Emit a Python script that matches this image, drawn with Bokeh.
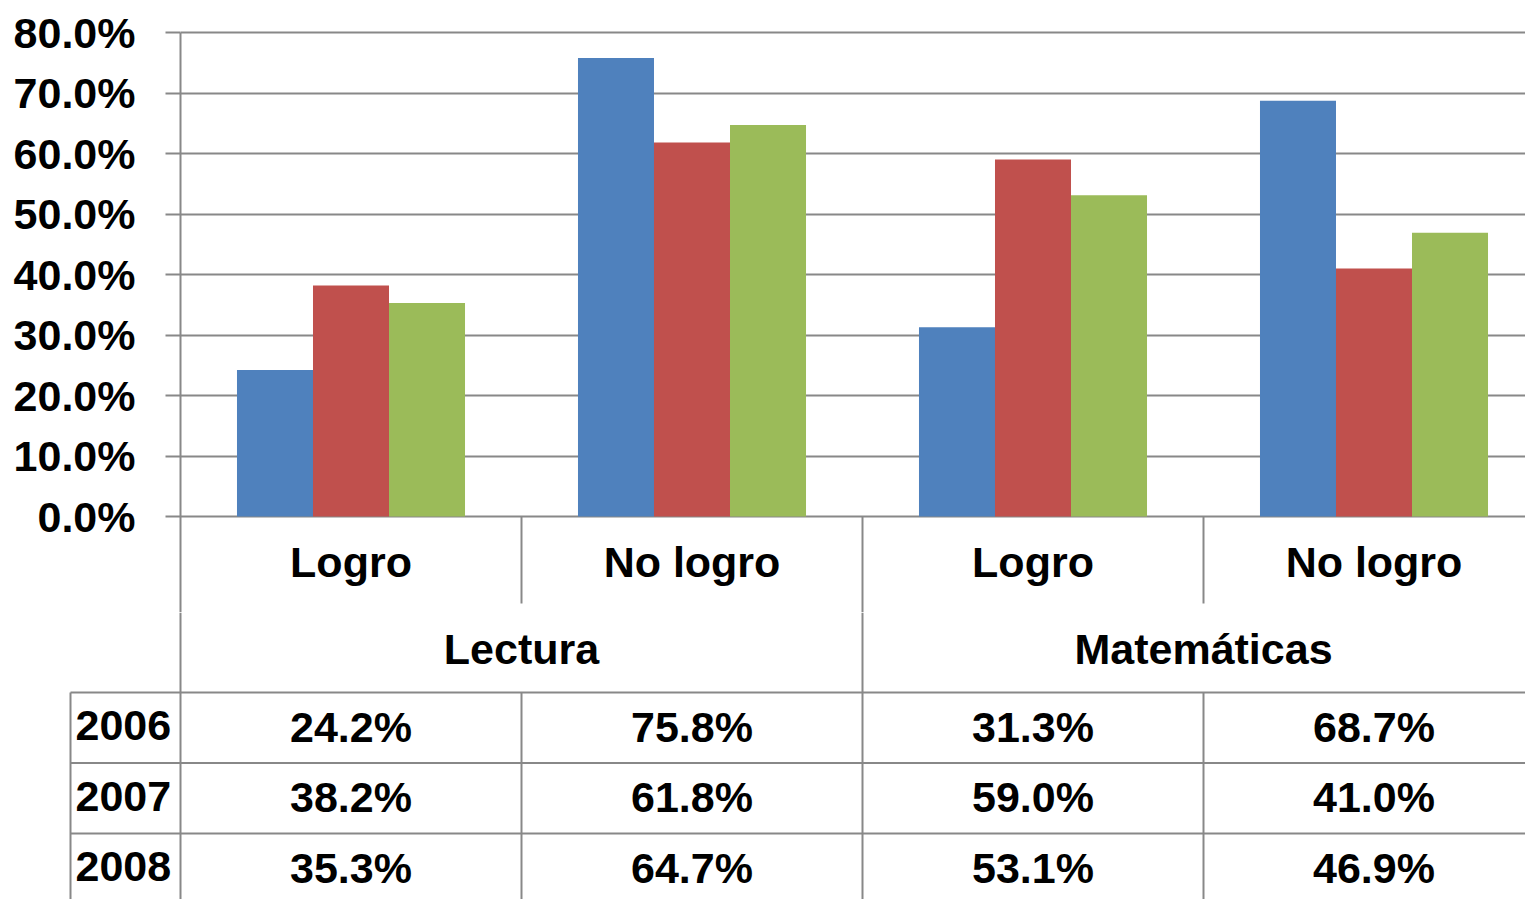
from bokeh.plotting import figure
from bokeh.models import Range1d, FixedTicker, PrintfTickFormatter, ColumnDataSource
from bokeh.embed import file_html
from bokeh.resources import INLINE
from bokeh.core.properties import value

# ---------------- data ----------------
subjects = ["Lectura", "Matemáticas"]
outcomes = ["Logro", "No logro", "Logro", "No logro"]
years = ["2006", "2007", "2008"]
v2006 = [24.2, 75.8, 31.3, 68.7]
v2007 = [38.2, 61.8, 59.0, 41.0]
v2008 = [35.3, 64.7, 53.1, 46.9]
series = [v2006, v2007, v2008]
colors = ["#4F81BD", "#C0504D", "#9BBB59"]
y_ticks = [0, 10, 20, 30, 40, 50, 60, 70, 80]

# ---------------- style / layout ----------------
FONT = "Liberation Sans"
FS = "43px"
GRID = "#888888"
W = 1525
CAT_PX = 341.0               # pixels per category
PX_PER_UNIT = 6.05           # pixels per percent
ZERO_PX = 516                # page y of 0 %
LEFT = 180
HA = 612
HB = 899 - HA
TOP_PAD = 2 / PX_PER_UNIT
BOT_PAD = (HA - ZERO_PX) / PX_PER_UNIT
X_END = (W - LEFT) / CAT_PX  # visible right edge in category units
X_START_B = -LEFT / CAT_PX   # left edge of table figure
TABLE_LEFT = -110 / CAT_PX
YEAR_X = -105 / CAT_PX
BAR_W = 0.2229

def pct_y(page_y):
    """page pixel row -> chart data units (percent)"""
    return -(page_y - ZERO_PX) / PX_PER_UNIT

# ---------------- chart figure (with category row) ----------------
pA = figure(width=W, height=HA,
            x_range=Range1d(0, X_END), y_range=Range1d(-BOT_PAD, 80 + TOP_PAD),
            output_backend="svg", toolbar_location=None, x_axis_location=None,
            min_border_left=LEFT, min_border_right=0, min_border_top=30, min_border_bottom=0)
pA.outline_line_color = None
pA.background_fill_color = "white"
pA.border_fill_color = "white"
pA.xgrid.visible = False
pA.ygrid.ticker = FixedTicker(ticks=y_ticks)
pA.ygrid.grid_line_color = GRID
pA.ygrid.grid_line_width = 2

ax = pA.yaxis[0]
ax.ticker = FixedTicker(ticks=y_ticks)
ax.formatter = PrintfTickFormatter(format="%.1f%%")
ax.bounds = (-BOT_PAD, 80)
ax.axis_line_color = GRID
ax.axis_line_width = 2
ax.major_tick_line_color = GRID
ax.major_tick_line_width = 2
ax.major_tick_out = 15
ax.major_tick_in = 0
ax.minor_tick_line_color = None
ax.major_label_standoff = 30
ax.major_label_text_font = FONT
ax.major_label_text_font_style = "bold"
ax.major_label_text_font_size = FS
ax.major_label_text_color = "black"

for k, vals in enumerate(series):
    xs = [i + 0.5 + (k - 1) * BAR_W for i in range(len(vals))]
    src = ColumnDataSource(dict(x=xs, top=vals))
    pA.vbar(x="x", top="top", bottom=0, width=BAR_W, source=src,
            fill_color=colors[k], line_color=None)

n = len(outcomes)
short_x = [i for i in range(n) if i % 2 == 1]
long_x = [i for i in range(1, n) if i % 2 == 0]
pA.segment(x0=short_x, y0=[0] * len(short_x), x1=short_x, y1=[pct_y(603)] * len(short_x),
           line_color=GRID, line_width=2)
pA.segment(x0=long_x, y0=[0] * len(long_x), x1=long_x, y1=[-BOT_PAD] * len(long_x),
           line_color=GRID, line_width=2)

txt = dict(text_font=value(FONT), text_font_style="bold", text_font_size=FS,
           text_baseline="middle", text_color="black")

pA.text(x=[i + 0.5 for i in range(n)], y=[pct_y(561)] * n, text=outcomes,
        text_align="center", **txt)

# ---------------- table figure ----------------
pB = figure(width=W, height=HB,
            x_range=Range1d(X_START_B, X_END), y_range=Range1d(HB, 0),
            output_backend="svg", toolbar_location=None,
            x_axis_location=None, y_axis_location=None,
            min_border_left=0, min_border_right=0, min_border_top=0, min_border_bottom=0)
pB.outline_line_color = None
pB.xgrid.visible = False
pB.ygrid.visible = False
pB.background_fill_color = "white"
pB.border_fill_color = "white"

GROUP_LABEL_Y = 648 - HA
TABLE_TOP = 692 - HA
ROW_H = 70.5

full_x = [0] + long_x
pB.segment(x0=full_x, y0=[0] * len(full_x), x1=full_x, y1=[HB] * len(full_x),
           line_color=GRID, line_width=2)
pB.segment(x0=short_x + [TABLE_LEFT], y0=[TABLE_TOP] * (len(short_x) + 1),
           x1=short_x + [TABLE_LEFT], y1=[HB] * (len(short_x) + 1),
           line_color=GRID, line_width=2)
row_lines = [TABLE_TOP + r * ROW_H for r in range(len(years))]
pB.segment(x0=[TABLE_LEFT] * len(row_lines), y0=row_lines,
           x1=[X_END] * len(row_lines), y1=row_lines,
           line_color=GRID, line_width=2)

pB.text(x=[1 + 2 * g for g in range(len(subjects))], y=[GROUP_LABEL_Y] * len(subjects),
        text=subjects, text_align="center", **txt)

tx, ty, tt = [], [], []
for r, vals in enumerate(series):
    for i, v in enumerate(vals):
        tx.append(i + 0.5)
        ty.append(TABLE_TOP + r * ROW_H + ROW_H / 2 - 1)
        tt.append(f"{v:.1f}%")
pB.text(x=tx, y=ty, text=tt, text_align="center", **txt)

pB.text(x=[YEAR_X] * len(years),
        y=[TABLE_TOP + r * ROW_H + ROW_H / 2 - 2 for r in range(len(years))],
        text=years, text_align="left", **txt)

open("out.html", "w").write(file_html([pA, pB], INLINE))
